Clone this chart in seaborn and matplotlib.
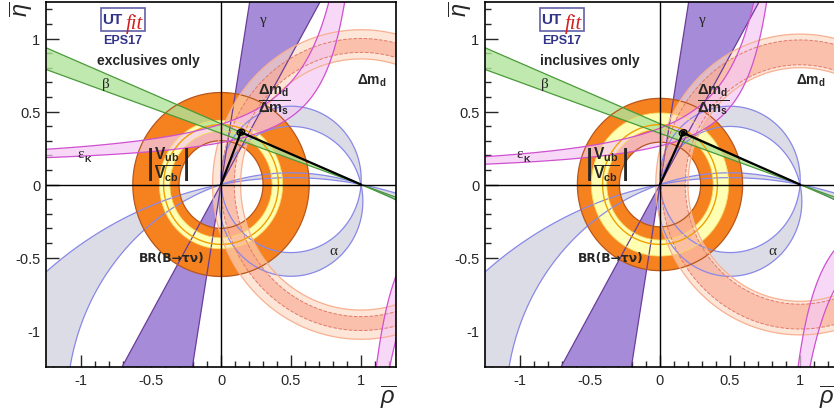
import numpy as np
import matplotlib
matplotlib.use("Agg")
import matplotlib.pyplot as plt
from matplotlib.patches import Ellipse, Rectangle
import seaborn as sns

sns.set_style("white")
plt.rcParams['font.family'] = ['Liberation Sans', 'DejaVu Sans']
plt.rcParams['mathtext.fontset'] = 'custom'
plt.rcParams['mathtext.rm'] = 'Liberation Sans'
plt.rcParams['mathtext.it'] = 'Liberation Sans:italic'
plt.rcParams['mathtext.bf'] = 'Liberation Sans:bold'

# ---- data ----
panel_titles = ["exclusives only", "inclusives only"]
apex_rho = [0.142, 0.165]
apex_eta = [0.358, 0.354]

# rings around (0,0): inner / outer radius
taunu_ring = [[0.30, 0.63], [0.29, 0.59]]
vub_ring = [[0.365, 0.44], [0.38, 0.49]]
vub_line = [0.41, 0.41]
# rings around (1,0)
dmd_ring = [[0.86, 1.06], [0.80, 1.03]]
dmratio_ring = [[0.905, 1.0], [0.82, 0.99]]

# eps_K band: (eta - d) * (c + s*eta - rho) between k_lo and k_hi
epsk_c = [1.0085, 0.88]
epsk_d = [0.10, 0.05]
epsk_s = [0.032, 0.032]
epsk_k = [[0.19, 0.32], [0.19, 0.30]]

# angles in degrees (same in both panels)
gamma_deg = [60.5, 80.7]
beta_deg = [19.3, 22.6]
alpha_deg = [[86.0, 103.0], [161.8, 169.3]]

ticks = [-1, -0.5, 0, 0.5, 1]
tick_labels = ["-1", "-0.5", "0", "0.5", "1"]

# ---- colours ----
c_taunu, e_taunu = "#f5821f", "#b8561c"
c_vub, e_vub = "#ffffb4", "#f6dc60"
c_gam, e_gam = "#a68bd8", "#6a3d9a"
c_bet, e_bet = "#b0e49a", "#4a9a3a"
c_alp, e_alp = "#dcdce6", "#8888e8"
c_eps, e_eps = "#f4caf4", "#d050d0"
c_dmd, e_dmd = "#fdd8c2", "#f8b090"
c_dmr, e_dmr = "#faa890", "#e07a6a"

g = np.linspace(-1.3, 1.3, 1000)
R, E = np.meshgrid(g, g)


def band(ax, f, lo, hi, color, z, alpha=1.0):
    ax.contourf(R, E, f, levels=[lo, hi], colors=[color], alpha=alpha,
                zorder=z, antialiased=True)


def edge(ax, f, levels, color, z, ls="-", lw=0.9):
    ax.contour(R, E, f, levels=levels, colors=[color], linewidths=lw,
               linestyles=ls, zorder=z)


fig = plt.figure(figsize=(8.34, 4.14), dpi=100)
lefts = [46 / 834, 485 / 834]

for i in range(2):
    ax = fig.add_axes([lefts[i], 46 / 414, 350 / 834, 365 / 414])
    ax.set_xlim(-1.25, 1.25)
    ax.set_ylim(-1.25, 1.25)

    r0 = np.hypot(R, E)
    r1 = np.hypot(R - 1, E)

    # alpha: circles through (0,0) and (1,0)
    for a1, a2 in alpha_deg:
        g1 = R**2 - R + E**2 - 2 * (0.5 / np.tan(np.radians(a1))) * E
        g2 = R**2 - R + E**2 - 2 * (0.5 / np.tan(np.radians(a2))) * E
        prod = g1 * g2
        band(ax, prod, prod.min() - 1, 0, c_alp, 1)
        edge(ax, g1, [0], e_alp, 9)
        edge(ax, g2, [0], e_alp, 9)

    # gamma: lines through origin
    l1 = E * np.cos(np.radians(gamma_deg[0])) - R * np.sin(np.radians(gamma_deg[0]))
    l2 = E * np.cos(np.radians(gamma_deg[1])) - R * np.sin(np.radians(gamma_deg[1]))
    prod = l1 * l2
    band(ax, prod, prod.min() - 1, 0, c_gam, 2)

    # BR(B -> tau nu) and |Vub/Vcb|
    band(ax, r0, taunu_ring[i][0], taunu_ring[i][1], c_taunu, 3)
    band(ax, r0, vub_ring[i][0], vub_ring[i][1], c_vub, 4)

    # Delta m_d and Delta m_d / Delta m_s
    band(ax, r1, dmd_ring[i][0], dmd_ring[i][1], c_dmd, 5, alpha=0.65)
    band(ax, r1, dmratio_ring[i][0], dmratio_ring[i][1], c_dmr, 6, alpha=0.6)

    # eps_K
    fe = (E - epsk_d[i]) * (epsk_c[i] + epsk_s[i] * E - R)
    band(ax, fe, epsk_k[i][0], epsk_k[i][1], c_eps, 7, alpha=0.7)

    # beta: lines through (1,0)
    m1 = E * np.cos(np.radians(beta_deg[0])) + (R - 1) * np.sin(np.radians(beta_deg[0]))
    m2 = E * np.cos(np.radians(beta_deg[1])) + (R - 1) * np.sin(np.radians(beta_deg[1]))
    prod = m1 * m2
    band(ax, prod, prod.min() - 1, 0, c_bet, 8, alpha=0.8)

    # outlines
    edge(ax, l1, [0], e_gam, 9)
    edge(ax, l2, [0], e_gam, 9)
    edge(ax, r0, taunu_ring[i], e_taunu, 9)
    edge(ax, r0, vub_ring[i], e_vub, 9, lw=0.6)
    edge(ax, r0, [vub_line[i]], "#f0a000", 9, lw=1.0)
    edge(ax, r1, dmd_ring[i], e_dmd, 9)
    edge(ax, r1, dmratio_ring[i], e_dmr, 9, ls="--", lw=0.7)
    edge(ax, fe, epsk_k[i], e_eps, 9)
    edge(ax, m1, [0], e_bet, 9)
    edge(ax, m2, [0], e_bet, 9)

    ax.axhline(0, color="black", lw=1.0, zorder=10)
    ax.axvline(0, color="black", lw=1.0, zorder=10)

    # unitarity triangle
    sns.lineplot(x=[0, apex_rho[i], 1], y=[0, apex_eta[i], 0], sort=False,
                 color="black", lw=1.6, ax=ax, zorder=11)
    for w, h in [(0.055, 0.04), (0.028, 0.02)]:
        ax.add_patch(Ellipse((apex_rho[i], apex_eta[i]), w, h, angle=20,
                             fill=False, ec="black", lw=1.0, zorder=12))

    # logo
    ax.add_patch(Rectangle((-0.856, 1.05), 0.312, 0.16, fc="white",
                           ec="#6060a8", lw=1.2, zorder=13))
    ax.text(-0.78, 1.135, "UT", color="#333388", fontsize=11, fontweight="bold",
            ha="center", va="center", zorder=14)
    ax.text(-0.622, 1.105, "fit", color="#d42020", fontsize=15, style="italic",
            family="Liberation Serif", ha="center", va="center", zorder=14)
    ax.text(-0.70, 0.99, "EPS17", color="#333388", fontsize=9,
            fontweight="bold", ha="center", va="center", zorder=14)
    ax.text(-0.52 if i == 0 else -0.50, 0.85, panel_titles[i], fontsize=10,
            fontweight="bold", ha="center", va="center", zorder=14)

    # constraint labels
    ax.text(-0.82, 0.69, "β", family="Liberation Serif", fontsize=11,
            ha="center", va="center", zorder=14)
    ax.text(0.30, 1.13, "γ", family="Liberation Serif", fontsize=11,
            ha="center", va="center", zorder=14)
    ax.text(0.80, -0.455, "α", family="Liberation Serif", fontsize=11,
            ha="center", va="center", zorder=14)
    ax.text(-1.0, 0.21, "ε", family="Liberation Serif", fontsize=11,
            ha="center", va="center", zorder=14)
    ax.text(-0.955, 0.18, "K", fontsize=6.5, fontweight="bold",
            ha="center", va="center", zorder=14)
    ax.text(1.08, 0.72, r"$\mathbf{\Delta m_d}$", fontsize=10,
            ha="center", va="center", zorder=14)
    ax.text(0.376, 0.58, r"$\frac{\mathbf{\Delta m_d}}{\mathbf{\Delta m_s}}$",
            fontsize=15, ha="center", va="center", zorder=14)
    ax.text(-0.385, 0.137, r"$\left|\frac{\mathbf{V_{ub}}}{\mathbf{V_{cb}}}\right|$",
            fontsize=16, ha="center", va="center", zorder=14)
    ax.text(-0.355, -0.5, "BR(B→τν)", family=["DejaVu Sans"], fontsize=8.8,
            fontweight="bold", ha="center", va="center", zorder=14)

    # axes styling
    ax.set_xticks(ticks)
    ax.set_xticklabels(tick_labels)
    ax.set_yticks(ticks)
    ax.set_yticklabels(tick_labels)
    ax.set_xticks(np.arange(-1.2, 1.25, 0.1), minor=True)
    ax.set_yticks(np.arange(-1.2, 1.25, 0.1), minor=True)
    ax.tick_params(which="both", direction="in", top=False, right=False,
                   bottom=True, left=True, labelsize=10.5, width=1.0)
    ax.tick_params(which="major", length=9, pad=4)
    ax.tick_params(which="minor", length=4.5)
    for sp in ax.spines.values():
        sp.set_color("black")
        sp.set_linewidth(1.2)
        sp.set_zorder(20)

    ax.text(0.977, -0.082, r"$\overline{\rho}$", transform=ax.transAxes,
            fontsize=17, ha="center", va="center")
    ax.text(-0.071, 0.982, r"$\overline{\eta}$", transform=ax.transAxes,
            fontsize=17, ha="center", va="center", rotation=90)

fig.savefig("out.png", dpi=100)
